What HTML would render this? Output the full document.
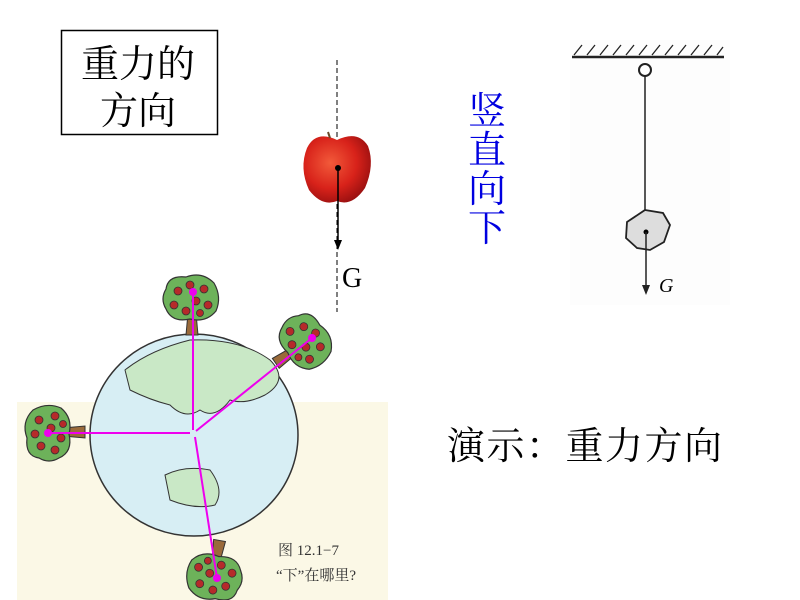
<!DOCTYPE html>
<html><head><meta charset="utf-8"><style>
html,body{margin:0;padding:0;background:#fff;width:800px;height:600px;overflow:hidden}
svg{display:block}
.cjk{font-family:"Liberation Serif","Noto Serif CJK SC","Noto Sans CJK SC",serif}
</style></head><body>
<svg width="800" height="600" viewBox="0 0 800 600" xmlns="http://www.w3.org/2000/svg">
<defs>
<radialGradient id="ap" cx="40%" cy="40%" r="65%"><stop offset="0" stop-color="#f25a3a"/><stop offset="0.6" stop-color="#d8221a"/><stop offset="1" stop-color="#9a1010"/></radialGradient>
<g id="tree"><path d="M-4,10 L4,10 L6,32 L-6,32 Z" fill="#9a6a3a" stroke="#333" stroke-width="1"/>
<path d="M-26,-14 Q-24,-28 -6,-26 Q10,-32 22,-20 Q30,-6 24,8 Q14,20 -2,16 Q-20,20 -26,6 Q-32,-4 -26,-14Z" fill="#6db25a" stroke="#333" stroke-width="1.2"/>
<g fill="#b62a2a" stroke="#333" stroke-width="0.8"><circle cx="-14" cy="-12" r="4"/><circle cx="-2" cy="-18" r="4"/><circle cx="12" cy="-14" r="4"/><circle cx="-18" cy="2" r="4"/><circle cx="4" cy="-2" r="4"/><circle cx="16" cy="2" r="4"/><circle cx="-6" cy="8" r="4"/><circle cx="8" cy="10" r="3.5"/></g></g>
</defs>
<rect x="61.5" y="30.5" width="156" height="104" fill="#fff" stroke="#000" stroke-width="1.5"/>
<text class="cjk" x="81" y="77" font-size="38">重力的</text>
<text class="cjk" x="100" y="124" font-size="38">方向</text>
<line x1="337" y1="60" x2="337" y2="312" stroke="#000" stroke-width="1" stroke-dasharray="5,3"/>
<path d="M337,140 Q358,130 368,146 Q375,165 365,188 Q352,207 337,201 Q322,207 309,190 Q299,168 307,148 Q316,130 337,140Z" fill="url(#ap)"/>
<line x1="330" y1="138" x2="328" y2="132" stroke="#6a4a2a" stroke-width="2"/>
<circle cx="338" cy="168" r="3" fill="#000"/>
<line x1="338" y1="168" x2="338" y2="242" stroke="#000" stroke-width="1.5"/>
<path d="M334,240 L338,250 L342,240 Z" fill="#000"/>
<text x="342" y="287" font-family="Liberation Serif,serif" font-size="28">G</text>
<g class="cjk" font-size="38" fill="#0000e0"><text x="468" y="124">竖</text><text x="468" y="163">直</text><text x="468" y="202">向</text><text x="468" y="241">下</text></g>
<rect x="570" y="40" width="160" height="265" fill="#fdfdfd"/>
<line x1="572" y1="57" x2="724" y2="57" stroke="#222" stroke-width="2.5"/>
<g stroke="#222" stroke-width="1.3"><path d="M574,55l8,-10M587,55l8,-10M600,55l8,-10M613,55l8,-10M626,55l8,-10M639,55l8,-10M652,55l8,-10M665,55l8,-10M678,55l8,-10M691,55l8,-10M704,55l8,-10M717,55l6,-8"/></g>
<circle cx="645" cy="70" r="6" fill="#fff" stroke="#222" stroke-width="2"/>
<line x1="645" y1="76" x2="645" y2="210" stroke="#222" stroke-width="1.5"/>
<path d="M645,210 L663,213 L670,225 L664,242 L650,250 L637,248 L626,238 L627,222 Z" fill="#ddd" stroke="#222" stroke-width="1.8"/>
<circle cx="646" cy="232" r="2.5" fill="#000"/>
<line x1="646" y1="232" x2="646" y2="288" stroke="#222" stroke-width="1.5"/>
<path d="M642,285 L646,295 L650,285Z" fill="#222"/>
<text x="659" y="292" font-family="Liberation Serif,serif" font-style="italic" font-size="20">G</text>
<rect x="17" y="402" width="371" height="198" fill="#fbf8e6"/>
<ellipse cx="194" cy="435" rx="104" ry="101" fill="#d7eef4" stroke="#333" stroke-width="1.5"/>
<path d="M125,370 Q150,350 190,340 Q240,338 270,360 Q290,380 265,395 Q245,405 230,400 Q215,420 200,410 Q185,420 170,405 Q150,400 130,390 Z" fill="#c9e8c6" stroke="#333" stroke-width="1"/>
<path d="M165,475 Q185,465 210,470 Q225,490 215,505 Q195,510 170,500 Z" fill="#c9e8c6" stroke="#333" stroke-width="1"/>
<use href="#tree" x="192" y="303"/>
<use href="#tree" x="302" y="345" transform="rotate(55 302 345)"/>
<use href="#tree" x="53" y="432" transform="rotate(-90 53 432)"/>
<use href="#tree" x="214" y="572" transform="rotate(190 214 572)"/>
<g stroke="#ee00ee" stroke-width="2" fill="#ee00ee">
<line x1="193" y1="292" x2="193" y2="430"/><circle cx="193" cy="292" r="3"/>
<line x1="312" y1="338" x2="196" y2="431"/><circle cx="312" cy="338" r="3"/>
<line x1="48" y1="433" x2="190" y2="433"/><circle cx="48" cy="433" r="3"/>
<line x1="217" y1="578" x2="195" y2="437"/><circle cx="217" cy="578" r="3"/>
</g>
<text class="cjk" x="278" y="555" font-size="15" fill="#333">图 12.1−7</text>
<text class="cjk" x="276" y="580" font-size="15" fill="#333">“下”在哪里?</text>
<text class="cjk" x="447" y="459" font-size="38" textLength="275" lengthAdjust="spacing">演示：重力方向</text>
</svg>
</body></html>
